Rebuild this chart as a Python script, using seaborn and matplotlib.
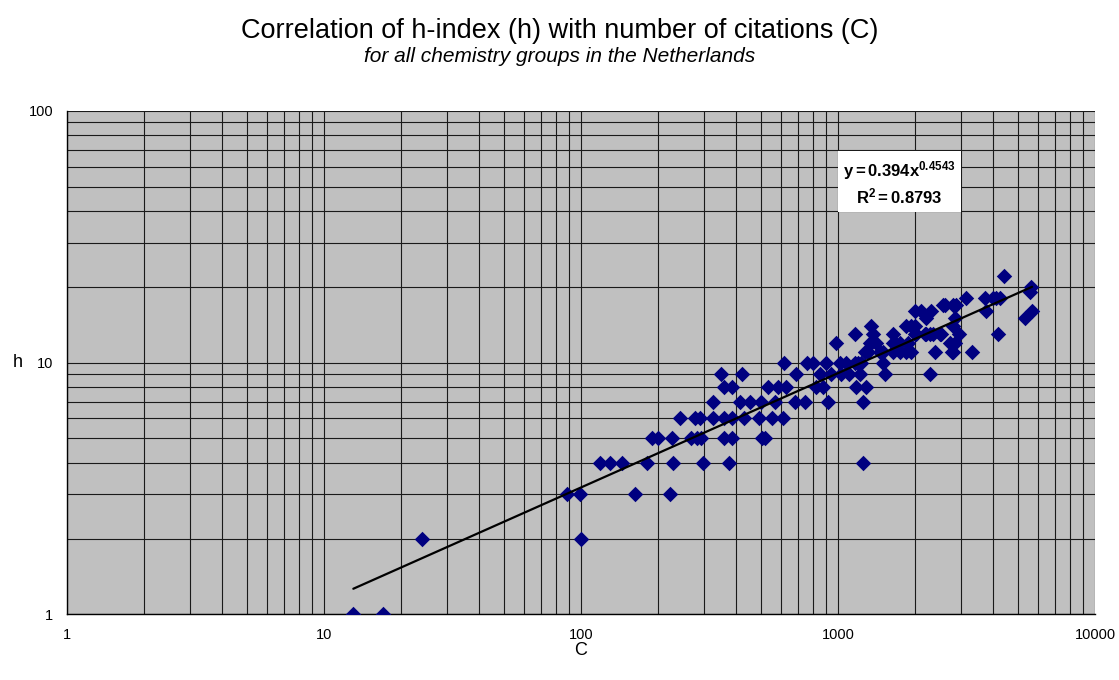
import numpy as np
import pandas as pd
import matplotlib
matplotlib.use("Agg")
import matplotlib.pyplot as plt
import seaborn as sns
from matplotlib.ticker import FixedLocator, FixedFormatter, LogLocator

# ---- data ----
h_levels = [1, 2, 3, 4, 5, 6, 7, 8, 9, 10, 11, 12, 13, 14, 15, 16, 17, 18, 19, 20, 22]
citations_per_level = [
    [13, 17],
    [24, 100],
    [88, 99, 162, 221],
    [118, 130, 144, 180, 228, 297, 376, 1251],
    [188, 200, 226, 269, 283, 294, 359, 387, 508, 519],
    [242, 277, 290, 326, 359, 387, 431, 491, 555, 608],
    [326, 414, 456, 503, 567, 678, 742, 915, 1251],
    [359, 387, 534, 584, 630, 824, 874, 1179, 1282],
    [349, 423, 689, 849, 942, 1031, 1100, 1214, 1519, 2288],
    [615, 758, 799, 896, 1015, 1078, 1161, 1196, 1233, 1496],
    [1270, 1308, 1453, 1496, 1637, 1738, 1846, 1931, 2378, 2777, 2802, 3322],
    [986, 1328, 1349, 1411, 1637, 1662, 1738, 1873, 2720, 2845],
    [1161, 1369, 1637, 1988, 2018, 2175, 2208, 2274, 2342, 2487, 2525, 2957, 4194],
    [1349, 1846, 1931, 1988, 2802],
    [2208, 2845, 5327],
    [1988, 2111, 2309, 3756, 5687],
    [2562, 2601, 2802, 2889],
    [3159, 3723, 4010, 4134, 4258],
    [5570],
    [5656],
    [4426],
]
fit_a = 0.394
fit_b = 0.4543
fit_r2 = 0.8793
x_ticks = [1, 10, 100, 1000, 10000]
x_tick_labels = ["1", "10", "100", "1000", "10000"]
y_ticks = [1, 10, 100]
y_tick_labels = ["1", "10", "100"]

title = "Correlation of h-index (h) with number of citations (C)"
subtitle = "for all chemistry groups in the Netherlands"

rows = []
for h, cs in zip(h_levels, citations_per_level):
    for c in cs:
        rows.append((c, h))
df = pd.DataFrame(rows, columns=["C", "h"])

# ---- style ----
sns.set_style("white")
plt.rcParams["font.family"] = ["Liberation Sans", "DejaVu Sans"]
plt.rcParams["text.color"] = "black"
plt.rcParams["axes.labelcolor"] = "black"
plt.rcParams["xtick.color"] = "black"
plt.rcParams["ytick.color"] = "black"
plt.rcParams["mathtext.fontset"] = "custom"
plt.rcParams["mathtext.rm"] = "Liberation Sans"
plt.rcParams["mathtext.bf"] = "Liberation Sans:bold"
plt.rcParams["mathtext.it"] = "Liberation Sans:italic"

fig = plt.figure(figsize=(11.19, 6.80), dpi=100)
ax = fig.add_axes([0.0599, 0.0966, 0.9187, 0.7402])
ax.set_facecolor("#C0C0C0")

sns.scatterplot(data=df, x="C", y="h", marker="D", color="#000080",
                s=62, linewidth=0, ax=ax, zorder=3)

c_min, c_max = df["C"].min(), df["C"].max()
fit_x = np.geomspace(c_min, c_max, 100)
fit_y = fit_a * fit_x ** fit_b
ax.plot(fit_x, fit_y, color="black", lw=1.6, zorder=4)

ax.set_xscale("log")
ax.set_yscale("log")
ax.set_xlim(1, 10000)
ax.set_ylim(1, 100)

ax.xaxis.set_major_locator(FixedLocator(x_ticks))
ax.xaxis.set_major_formatter(FixedFormatter(x_tick_labels))
ax.yaxis.set_major_locator(FixedLocator(y_ticks))
ax.yaxis.set_major_formatter(FixedFormatter(y_tick_labels))
ax.xaxis.set_minor_locator(LogLocator(base=10, subs=np.arange(2, 10)))
ax.yaxis.set_minor_locator(LogLocator(base=10, subs=np.arange(2, 10)))

ax.grid(True, which="both", color="#1a1a1a", lw=0.8, zorder=1)
ax.set_axisbelow(True)
ax.tick_params(axis="both", which="major", direction="out", length=4,
               width=0.8, color="black", labelcolor="black",
               labelsize=10.5, pad=6)
ax.tick_params(axis="both", which="minor", length=0)

for s in ["top", "right"]:
    ax.spines[s].set_visible(False)
for s in ["left", "bottom"]:
    ax.spines[s].set_color("black")
    ax.spines[s].set_linewidth(1.0)

ax.set_xlabel("C", fontsize=13, color="black", va="center")
ax.xaxis.set_label_coords(0.5, -0.072)
ax.set_ylabel("h", fontsize=13, rotation=0, va="center", color="black")
ax.yaxis.set_label_coords(-0.048, 0.5)

fig.text(0.5, 0.955, title, ha="center", va="center", fontsize=19.5,
         color="black")
fig.text(0.5, 0.917, subtitle, ha="center", va="center", fontsize=15,
         style="italic", color="black")

ax.text(0.81, 0.857,
        r"$\mathbf{y = 0.394x^{0.4543}}$" + "\n" + r"$\mathbf{R^{2} = 0.8793}$",
        transform=ax.transAxes, ha="center", va="center", fontsize=12,
        linespacing=1.3, color="black",
        bbox=dict(facecolor="white", edgecolor="none", boxstyle="square,pad=0.3"),
        zorder=5)

fig.savefig("out.png", dpi=100)
